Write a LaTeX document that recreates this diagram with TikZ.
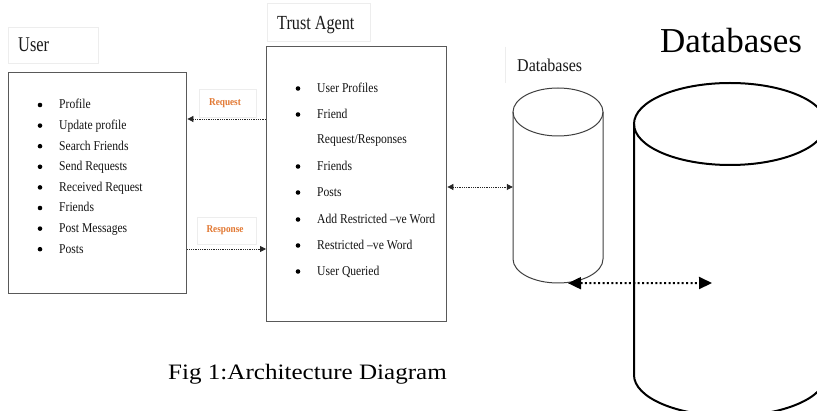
\documentclass[tikz,border=0pt]{standalone}
\usepackage{fontspec}
\usepackage{graphicx}
\setmainfont{Liberation Serif}
\usetikzlibrary{arrows.meta}
\newcommand\hsq[2]{\scalebox{#1}[1]{#2}}
\definecolor{reqorange}{RGB}{226,120,50}
\tikzset{
  itemtext/.style={anchor=base west, inner sep=0pt, text=black!92, font=\fontsize{13.5}{16}\selectfont},
  bul/.style={circle, fill=black, inner sep=0pt, minimum size=4.6pt},
  labbox/.style={draw=black!7, line width=0.8pt, inner sep=0pt, anchor=north west},
  mainbox/.style={draw=black!65, line width=1.4pt, inner sep=0pt, anchor=north west},
  ortext/.style={text=reqorange, inner sep=0pt, font=\bfseries\fontsize{10.5}{12}\selectfont},
  sarrow/.style={black!85, line width=0.8pt, dash pattern=on 0.8pt off 1pt},
  stip/.tip={Triangle[length=6pt,width=6pt]},
  btip/.tip={Triangle[length=13pt,width=12pt]},
  barrow/.style={black, line width=2pt, dash pattern=on 2pt off 2.4pt},
}
\begin{document}
\begin{tikzpicture}[x=1pt,y=-1pt]
\useasboundingbox (0,0) rectangle (817,411);
\fill[white] (0,0) rectangle (817,411);
\clip (0,0) rectangle (817,411);

% label boxes
\node[labbox, minimum width=90pt, minimum height=36pt] (userlab) at (8,27) {};
\node[anchor=base west, inner sep=0pt, text=black!90, font=\fontsize{21}{24}\selectfont] (usertxt) at (18,52) {\hsq{.78}{User}};
\node[labbox, minimum width=103pt, minimum height=38pt] (trustlab) at (267,3) {};
\node[anchor=base west, inner sep=0pt, text=black!90, font=\fontsize{20}{24}\selectfont] (trusttxt) at (277,30) {\hsq{.81}{Trust Agent}};

% main boxes
\node[mainbox, minimum width=178pt, minimum height=221pt] (user) at (8,72) {};
\node[mainbox, minimum width=180pt, minimum height=275pt] (trust) at (266,46) {};

% user items
\foreach \t [count=\i] in {Profile,Update profile,Search Friends,Send Requests,Received Request,Friends,Post Messages,Posts} {
  \node[itemtext] (u\i) at (59,{109+20.6*(\i-1)}) {\hsq{.86}{\t}};
  \node[bul] (ub\i) at (40,{105+20.6*(\i-1)}) {};
}

% trust items
\node[itemtext] (t1) at (317,92.5) {\hsq{.86}{User Profiles}};
\node[itemtext] (t2) at (317,118.5) {\hsq{.86}{Friend}};
\node[itemtext] (t2b) at (317,143.5) {\hsq{.86}{Request/Responses}};
\node[itemtext] (t3) at (317,170.5) {\hsq{.86}{Friends}};
\node[itemtext] (t4) at (317,196.5) {\hsq{.86}{Posts}};
\node[itemtext] (t5) at (317,223.5) {\hsq{.86}{Add Restricted \textendash ve Word}};
\node[itemtext] (t6) at (317,249.5) {\hsq{.86}{Restricted \textendash ve Word}};
\node[itemtext] (t7) at (317,275.5) {\hsq{.86}{User Queried}};
\foreach \n/\y in {1/88.5,2/114.5,3/166.5,4/192.5,5/219.5,6/245.5,7/271.5} {
  \node[bul] (tb\n) at (298,\y) {};
}

% request / response labels
\node[labbox, minimum width=57pt, minimum height=28pt] (reqlab) at (199,89) {};
\node[ortext] (reqtxt) at (225,103) {\hsq{.88}{Request}};
\node[labbox, minimum width=59pt, minimum height=27pt] (reslab) at (197,217) {};
\node[ortext] (restxt) at (225,230.5) {\hsq{.88}{Response}};

\coordinate (reqy) at (0,119);
\coordinate (resy) at (0,249);
\draw[sarrow, -{stip}] (trust.west |- reqy) -- (user.east |- reqy);
\draw[sarrow, -{stip}] (user.east |- resy) -- (trust.west |- resy);

% small database
\draw[black!7, line width=0.8pt] (505,47) -- (505,83);
\node[anchor=base west, inner sep=0pt, text=black!90, font=\fontsize{18}{22}\selectfont] (dbtxt) at (517,72) {\hsq{.89}{Databases}};
\node[inner sep=0pt, minimum width=90pt, minimum height=195pt] (db1) at (558,185.5) {};
\draw[black!75, line width=1pt] (558,112) ellipse [x radius=45, y radius=24];
\draw[black!75, line width=1pt] (513,112) -- (513,259) arc[start angle=180, end angle=0, x radius=45, y radius=24] -- (603,112);

\coordinate (dby) at (0,187);
\draw[sarrow, {stip}-{stip}] (trust.east |- dby) -- (db1.west |- dby);

% big database
\node[anchor=base west, inner sep=0pt, text=black, font=\fontsize{35}{40}\selectfont] (bigdbtxt) at (660,53) {Databases};
\node[inner sep=0pt, minimum width=192pt, minimum height=333pt] (db2) at (730,249.5) {};
\draw[black, line width=2pt] (730,124) ellipse [x radius=96, y radius=41];
\draw[black, line width=2pt] (634,124) -- (634,375) arc[start angle=180, end angle=0, x radius=96, y radius=41] -- (826,124);

\coordinate (bigstart) at ([xshift=10pt]db1.south);
\coordinate (bigend) at (712,283);
\draw[barrow, {btip}-{btip}] (bigstart) -- (bigend);

% caption
\node[anchor=base west, inner sep=0pt, text=black, font=\fontsize{22}{26}\selectfont] (caption) at (168,380) {\hsq{1.14}{Fig 1:Architecture Diagram}};
\end{tikzpicture}
\end{document}
